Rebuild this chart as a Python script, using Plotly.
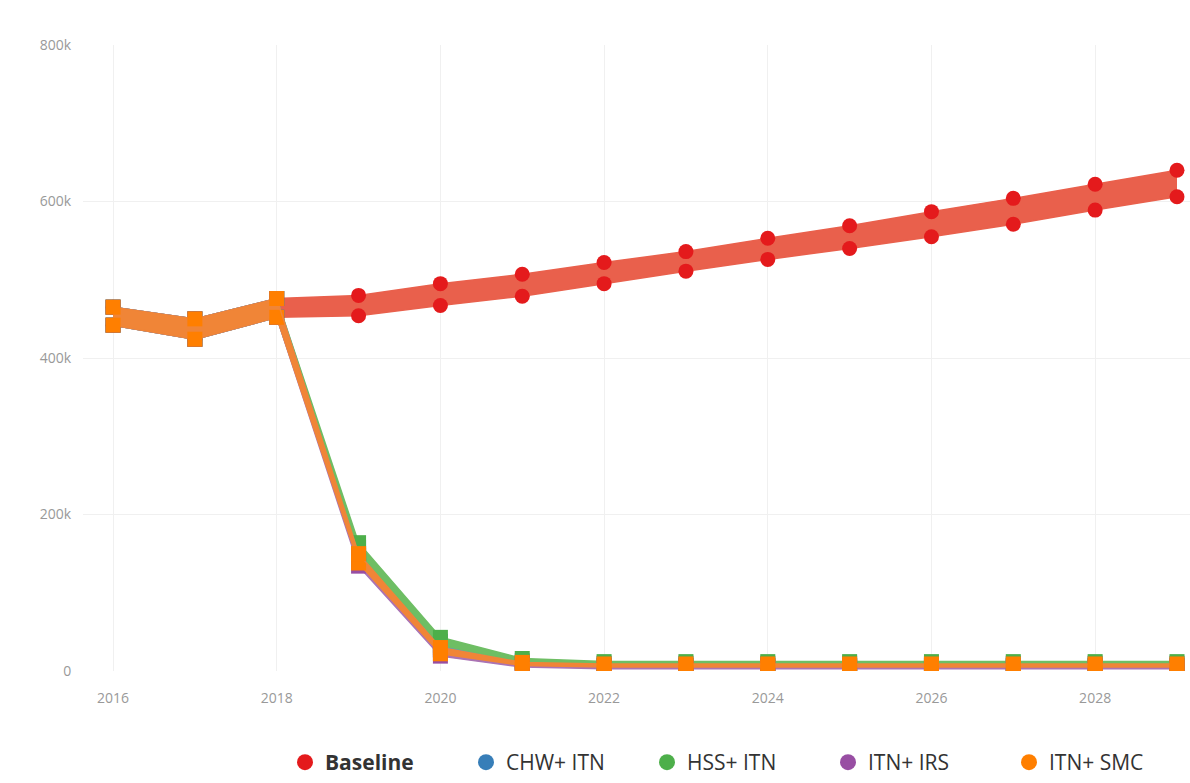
import plotly.graph_objects as go

years = list(range(2016, 2030))

baseline_upper = [465000, 450000, 476000, 480000, 495000, 507000, 522000, 536000, 553000, 569000, 587000, 604000, 622000, 640000]
baseline_lower = [442000, 424000, 452000, 454000, 467000, 479000, 495000, 511000, 526000, 540000, 555000, 571000, 589000, 606000]

chw_upper = [465000, 450000, 476000, 158000, 38000, 13000, 10000, 10000, 10000, 10000, 10000, 10000, 10000, 10000]
chw_lower = [442000, 424000, 452000, 142000, 27000, 8000, 5000, 5000, 5000, 5000, 5000, 5000, 5000, 5000]

hss_upper = [465000, 450000, 476000, 164000, 43000, 16000, 12000, 12000, 12000, 12000, 12000, 12000, 12000, 12000]
hss_lower = [442000, 424000, 452000, 150000, 33000, 11000, 7000, 7000, 7000, 7000, 7000, 7000, 7000, 7000]

irs_upper = [465000, 450000, 476000, 148000, 27000, 10000, 7000, 7000, 7000, 7000, 7000, 7000, 7000, 7000]
irs_lower = [442000, 424000, 452000, 134000, 19000, 5000, 3000, 3000, 3000, 3000, 3000, 3000, 3000, 3000]

smc_upper = [465000, 450000, 476000, 150000, 30000, 11000, 9000, 9000, 9000, 9000, 9000, 9000, 9000, 9000]
smc_lower = [442000, 424000, 452000, 138000, 22000, 7000, 5000, 5000, 5000, 5000, 5000, 5000, 5000, 5000]

scenario_names = ["<b>Baseline</b>", "CHW+ ITN", "HSS+ ITN", "ITN+ IRS", "ITN+ SMC"]
x_tick_vals = [2016, 2018, 2020, 2022, 2024, 2026, 2028]
x_tick_text = ["2016", "2018", "2020", "2022", "2024", "2026", "2028"]
y_tick_vals = [0, 200000, 400000, 600000, 800000]
y_tick_text = ["0", "200k", "400k", "600k", "800k"]

series = [
    (baseline_upper, baseline_lower, "#e41a1c", "rgb(233,96,76)", "circle"),
    (chw_upper, chw_lower, "#377eb8", "rgb(95,150,200)", "square"),
    (hss_upper, hss_lower, "#4daf4a", "rgb(110,190,100)", "square"),
    (irs_upper, irs_lower, "#984ea3", "rgb(170,115,180)", "square"),
    (smc_upper, smc_lower, "#ff7f00", "rgb(240,133,55)", "square"),
]

fig = go.Figure()
for (up, lo, col, fillcol, sym), name in zip(series, scenario_names):
    fig.add_trace(go.Scatter(
        x=years, y=lo, mode="lines+markers", showlegend=False, hoverinfo="skip",
        line=dict(color=fillcol, width=1.5),
        marker=dict(color=col, size=15, symbol=sym),
    ))
    fig.add_trace(go.Scatter(
        x=years, y=up, mode="lines+markers", showlegend=False, hoverinfo="skip",
        fill="tonexty", fillcolor=fillcol,
        line=dict(color=fillcol, width=1.5),
        marker=dict(color=col, size=15, symbol=sym),
    ))

for (up, lo, col, fillcol, sym), name in zip(series, scenario_names):
    fig.add_trace(go.Scatter(
        x=[None], y=[None], mode="markers", name=name,
        marker=dict(color=col, size=20, symbol="circle"),
    ))

fig.update_layout(
    width=1190, height=783,
    margin=dict(l=83, r=0, t=45, b=110),
    paper_bgcolor="white", plot_bgcolor="white",
    font=dict(family="Open Sans", color="#999"),
    legend=dict(
        orientation="h", x=1, xanchor="right", y=-0.1465, yanchor="middle",
        traceorder="normal", entrywidth=136, entrywidthmode="pixels",
        font=dict(size=21, color="#333", family="Open Sans"),
        itemclick=False,
    ),
    xaxis=dict(
        range=[2015.633, 2029.159],
        tickvals=x_tick_vals, ticktext=x_tick_text,
        showgrid=True, gridcolor="#f0f0f0", gridwidth=1,
        zeroline=False, showline=False,
        tickfont=dict(size=14, color="#999"),
        ticks="outside", ticklen=14, tickcolor="rgba(0,0,0,0)",
    ),
    yaxis=dict(
        range=[0, 800000],
        tickvals=y_tick_vals, ticktext=y_tick_text,
        showgrid=True, gridcolor="#f0f0f0", gridwidth=1,
        zeroline=False, showline=False,
        tickfont=dict(size=14, color="#999"),
        ticks="outside", ticklen=8, tickcolor="rgba(0,0,0,0)",
    ),
)

fig.write_html("out.html", config={"displayModeBar": False})
with open("out.html", encoding="utf-8") as f:
    html = f.read()
html = html.replace("<head>", "<head><style>html,body{margin:0;padding:0;}</style>", 1)
with open("out.html", "w", encoding="utf-8") as f:
    f.write(html)
